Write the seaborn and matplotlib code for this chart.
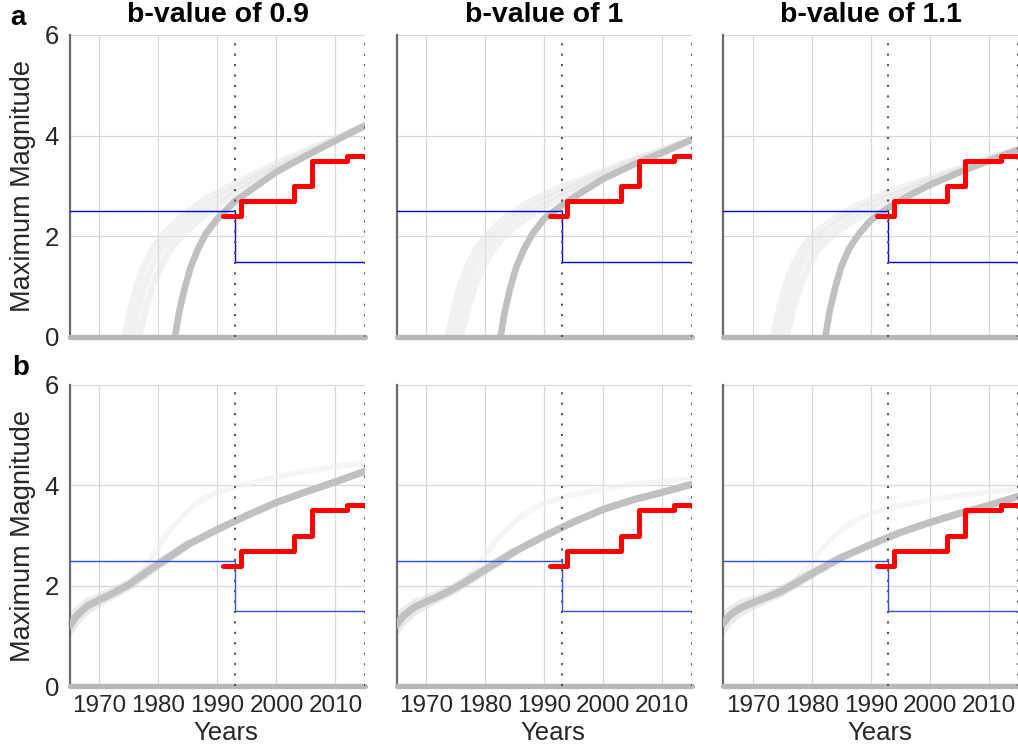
import matplotlib
matplotlib.use("Agg")
import matplotlib.pyplot as plt
import seaborn as sns

sns.set_theme(style="white")
plt.rcParams["font.family"] = ["Liberation Sans", "DejaVu Sans"]

# ---------------- data ----------------
b_values = ["0.9", "1", "1.1"]
panel_letters = ["a", "b"]
x_ticks = [1970, 1980, 1990, 2000, 2010]
y_ticks = [0, 2, 4, 6]

# observed maximum magnitude (red staircase)
obs_years = [1991.0, 1993.9, 2003.0, 2006.0, 2012.0, 2015.0]
obs_mag = [2.4, 2.7, 3.0, 3.5, 3.6, 3.6]

# blue reference step
ref_years = [1965, 1993, 2015]
ref_mag = [2.5, 1.5, 1.5]

# vertical dotted markers
marker_years = [1993, 2015]

# baseline (zero magnitude)
base_years = [1965, 2015]
base_mag = [0, 0]

# ---- row a : main curves ----
a09_years = [1982.8, 1983.5, 1984.5, 1985.5, 1986.7, 1988.0, 1990.0, 1993.0, 1996.0, 2000.0, 2005.0, 2010.0, 2015.0]
a09_mag = [0.0, 0.5, 1.0, 1.4, 1.75, 2.05, 2.35, 2.7, 2.95, 3.28, 3.6, 3.9, 4.2]
a10_years = [1982.6, 1983.3, 1984.3, 1985.3, 1986.6, 1988.0, 1990.0, 1993.0, 1996.0, 2000.0, 2005.0, 2010.0, 2015.0]
a10_mag = [0.0, 0.5, 1.0, 1.4, 1.75, 2.05, 2.35, 2.62, 2.85, 3.14, 3.42, 3.66, 3.92]
a11_years = [1982.3, 1983.0, 1984.0, 1985.0, 1986.3, 1988.0, 1990.0, 1993.0, 1996.0, 2000.0, 2005.0, 2010.0, 2015.0]
a11_mag = [0.0, 0.5, 1.0, 1.4, 1.75, 2.05, 2.32, 2.57, 2.78, 3.02, 3.27, 3.5, 3.72]

# ---- row a : faint ensemble curves ----
a09_f1_years = [1974.3, 1975.2, 1976.3, 1977.5, 1979.0, 1981.0, 1984.0, 1988.0, 1993.0, 2000.0, 2005.0, 2010.0, 2015.0]
a09_f1_mag = [0.0, 0.5, 1.0, 1.4, 1.75, 2.05, 2.4, 2.75, 3.05, 3.45, 3.7, 3.95, 4.2]
a09_f2_years = [1975.5, 1976.4, 1977.6, 1978.9, 1980.5, 1982.5, 1985.5, 1989.0, 1993.0, 2000.0, 2005.0, 2010.0, 2015.0]
a09_f2_mag = [0.0, 0.5, 1.0, 1.4, 1.75, 2.05, 2.38, 2.68, 2.95, 3.38, 3.66, 3.93, 4.2]
a09_f3_years = [1976.7, 1977.7, 1979.0, 1980.4, 1982.0, 1984.0, 1987.0, 1990.0, 1993.0, 2000.0, 2005.0, 2010.0, 2015.0]
a09_f3_mag = [0.0, 0.5, 1.0, 1.4, 1.75, 2.03, 2.35, 2.6, 2.85, 3.33, 3.63, 3.92, 4.2]

a10_f1_years = [1973.7, 1974.6, 1975.7, 1977.0, 1978.5, 1980.5, 1983.5, 1987.5, 1993.0, 2000.0, 2005.0, 2010.0, 2015.0]
a10_f1_mag = [0.0, 0.5, 1.0, 1.4, 1.75, 2.05, 2.38, 2.68, 2.98, 3.3, 3.52, 3.72, 3.92]
a10_f2_years = [1974.8, 1975.7, 1976.9, 1978.2, 1979.8, 1982.0, 1985.0, 1989.0, 1993.0, 2000.0, 2005.0, 2010.0, 2015.0]
a10_f2_mag = [0.0, 0.5, 1.0, 1.4, 1.75, 2.05, 2.36, 2.65, 2.88, 3.25, 3.49, 3.7, 3.92]
a10_f3_years = [1975.9, 1976.9, 1978.2, 1979.6, 1981.3, 1983.5, 1986.5, 1990.0, 1993.0, 2000.0, 2005.0, 2010.0, 2015.0]
a10_f3_mag = [0.0, 0.5, 1.0, 1.4, 1.75, 2.03, 2.33, 2.58, 2.78, 3.2, 3.46, 3.69, 3.92]

a11_f1_years = [1973.5, 1974.4, 1975.5, 1976.8, 1978.3, 1980.3, 1983.5, 1987.5, 1993.0, 2000.0, 2005.0, 2010.0, 2015.0]
a11_f1_mag = [0.0, 0.5, 1.0, 1.4, 1.75, 2.03, 2.33, 2.6, 2.88, 3.15, 3.35, 3.54, 3.72]
a11_f2_years = [1974.6, 1975.5, 1976.7, 1978.0, 1979.6, 1981.8, 1985.0, 1989.0, 1993.0, 2000.0, 2005.0, 2010.0, 2015.0]
a11_f2_mag = [0.0, 0.5, 1.0, 1.4, 1.75, 2.03, 2.32, 2.58, 2.78, 3.1, 3.32, 3.52, 3.72]
a11_f3_years = [1975.7, 1976.7, 1978.0, 1979.4, 1981.1, 1983.3, 1986.5, 1990.0, 1993.0, 2000.0, 2005.0, 2010.0, 2015.0]
a11_f3_mag = [0.0, 0.5, 1.0, 1.4, 1.75, 2.0, 2.28, 2.5, 2.68, 3.06, 3.3, 3.51, 3.72]

# ---- row b : main curves ----
b_years = [1965, 1966, 1967, 1968, 1970, 1972, 1975, 1978, 1980, 1985, 1990, 1995, 2000, 2005, 2010, 2015]
b09_mag = [1.2, 1.38, 1.5, 1.6, 1.72, 1.83, 2.02, 2.27, 2.43, 2.82, 3.12, 3.4, 3.66, 3.87, 4.07, 4.28]
b10_mag = [1.22, 1.38, 1.48, 1.57, 1.68, 1.78, 1.96, 2.17, 2.32, 2.68, 2.99, 3.27, 3.52, 3.71, 3.86, 4.02]
b11_mag = [1.25, 1.4, 1.49, 1.56, 1.66, 1.75, 1.9, 2.1, 2.24, 2.56, 2.82, 3.06, 3.26, 3.44, 3.6, 3.78]

# ---- row b : spread of ensemble near the start ----
b_spread_years = [1965, 1966, 1968, 1970, 1975, 1980, 1985]
b09_lo = [1.05, 1.25, 1.49, 1.64, 1.96, 2.38, 2.79]
b09_hi = [1.35, 1.5, 1.7, 1.79, 2.07, 2.48, 2.85]
b10_lo = [1.07, 1.25, 1.46, 1.6, 1.9, 2.28, 2.65]
b10_hi = [1.37, 1.5, 1.67, 1.75, 2.01, 2.36, 2.71]
b11_lo = [1.1, 1.27, 1.45, 1.58, 1.84, 2.2, 2.53]
b11_hi = [1.4, 1.52, 1.66, 1.73, 1.95, 2.28, 2.59]

# ---- row b : faint diverging curve ----
b_faint_years = [1976, 1978, 1980, 1982, 1984, 1986, 1988, 1990, 1993, 2000, 2005, 2010, 2015]
b09_faint = [2.12, 2.4, 2.78, 3.12, 3.38, 3.6, 3.76, 3.86, 3.97, 4.17, 4.28, 4.37, 4.45]
b10_faint = [2.0, 2.28, 2.6, 2.92, 3.16, 3.37, 3.53, 3.64, 3.76, 3.93, 4.02, 4.08, 4.12]
b11_faint = [1.95, 2.2, 2.48, 2.78, 3.02, 3.2, 3.34, 3.44, 3.54, 3.71, 3.8, 3.87, 3.92]

row_a_main = [(a09_years, a09_mag), (a10_years, a10_mag), (a11_years, a11_mag)]
row_a_faint = [
    [(a09_f1_years, a09_f1_mag), (a09_f2_years, a09_f2_mag), (a09_f3_years, a09_f3_mag)],
    [(a10_f1_years, a10_f1_mag), (a10_f2_years, a10_f2_mag), (a10_f3_years, a10_f3_mag)],
    [(a11_f1_years, a11_f1_mag), (a11_f2_years, a11_f2_mag), (a11_f3_years, a11_f3_mag)],
]
row_b_main = [b09_mag, b10_mag, b11_mag]
row_b_spread = [(b09_lo, b09_hi), (b10_lo, b10_hi), (b11_lo, b11_hi)]
row_b_faint = [b09_faint, b10_faint, b11_faint]

# ---------------- figure ----------------
W, H = 1018, 748
fig = plt.figure(figsize=(W / 100, H / 100), dpi=100)
col_left = [70, 396.7, 723.3]
ax_w = 295
row_span = [(35, 337), (385, 686)]

TXT = "#262626"
GREY = "#c0c0c0"


def line(ax, x, y, **kw):
    sns.lineplot(x=x, y=y, ax=ax, estimator=None, sort=False, legend=False, **kw)


for r in range(2):
    top, bot = row_span[r]
    for c in range(3):
        ax = fig.add_axes([col_left[c] / W, 1 - bot / H, ax_w / W, (bot - top) / H])
        ax.set_axisbelow(True)
        ax.grid(True, color="#d8d8d8", lw=0.9)

        if r == 0:
            for fx, fy in row_a_faint[c]:
                line(ax, fx, fy, color="#e2e2e2", lw=5.0, alpha=0.45, zorder=2)
            mx, my = row_a_main[c]
            line(ax, mx, my, color=GREY, lw=4.8, zorder=3)
            blue = "#0000f0"
        else:
            line(ax, b_faint_years, row_b_faint[c], color="#efefef", lw=4.0, alpha=0.6, zorder=2)
            lo, hi = row_b_spread[c]
            line(ax, b_spread_years, lo, color=GREY, lw=4.5, alpha=0.3, zorder=2)
            line(ax, b_spread_years, hi, color=GREY, lw=4.5, alpha=0.3, zorder=2)
            line(ax, b_years, row_b_main[c], color=GREY, lw=5.2, zorder=3)
            blue = "#2f4fff"

        line(ax, base_years, base_mag, color="#b8b8b8", lw=3.8, zorder=4, clip_on=False)
        line(ax, ref_years, ref_mag, color=blue, lw=1.0, drawstyle="steps-post", zorder=5)
        for yv in marker_years:
            ax.axvline(yv, color="#555555", lw=1.5, linestyle=(0, (1, 4)), zorder=6)
        line(ax, obs_years, obs_mag, color="#ff0000", lw=3.6, drawstyle="steps-post", zorder=7)

        ax.set_xlim(1965, 2015)
        ax.set_ylim(0, 6)
        ax.set_xticks(x_ticks)
        ax.set_yticks(y_ticks)
        ax.tick_params(axis="both", direction="in", length=4, width=0.9, color="#404040",
                       labelcolor=TXT)
        ax.tick_params(axis="y", pad=8, labelsize=18.5)
        ax.tick_params(axis="x", pad=6.5, labelsize=17.5)
        for s in ["top", "right", "bottom"]:
            ax.spines[s].set_visible(False)
        ax.spines["left"].set_color("#6a6a6a")
        ax.spines["left"].set_linewidth(1.6)

        if r == 0:
            ax.set_xticklabels([])
            ax.set_title(f"b-value of {b_values[c]}", fontsize=20.5, fontweight="bold",
                         pad=9, color="black")
            ax.set_xlabel("")
        else:
            ax.set_xlabel("Years", fontsize=18.5, color=TXT, labelpad=2.5)
            ax.xaxis.label.set_x(0.53)
        if c == 0:
            ax.set_ylabel("Maximum Magnitude", fontsize=19.5, color=TXT, labelpad=6)
        else:
            ax.set_yticklabels([])
            ax.set_ylabel("")

fig.text(10 / W, 1 - 25 / H, panel_letters[0], fontsize=20, fontweight="bold",
         va="baseline", ha="left", color="black")
fig.text(12 / W, 1 - 375 / H, panel_letters[1], fontsize=20, fontweight="bold",
         va="baseline", ha="left", color="black")

fig.savefig("out.png", dpi=100)
